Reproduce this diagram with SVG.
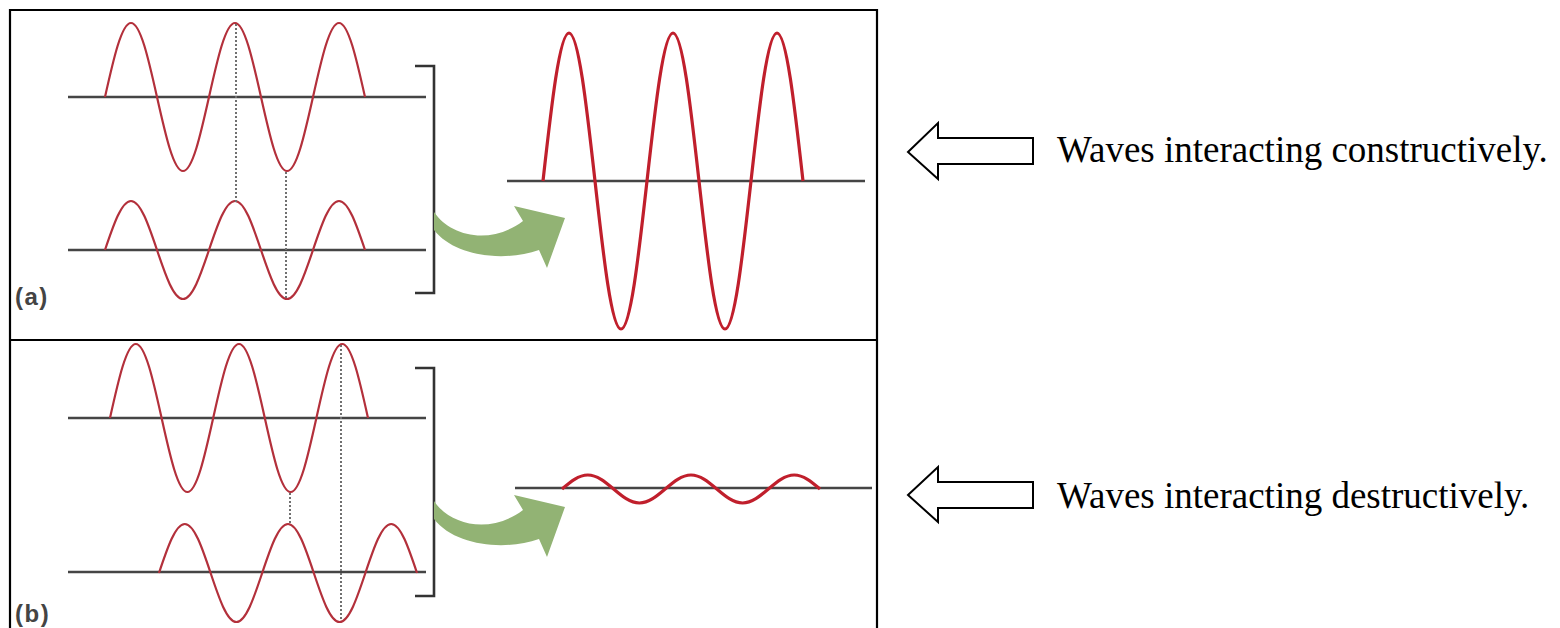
<svg xmlns="http://www.w3.org/2000/svg" width="1560" height="628" viewBox="0 0 1560 628">
  <style>
    .frame{stroke:#000;stroke-width:2.2;fill:none}
    .axis{stroke:#454545;stroke-width:2.6;fill:none}
    .wave{stroke:#b3303b;stroke-width:2.2;fill:none;stroke-linejoin:round}
    .wave-big{stroke:#c01f2c;stroke-width:3.2;fill:none;stroke-linejoin:round}
    .dots{stroke:#707070;stroke-width:2;stroke-dasharray:2 2;fill:none}
    .bracket{stroke:#333;stroke-width:2.6;fill:none}
    .green{fill:#92b374;stroke:none}
    .lbl{font-family:"Liberation Sans",Arial,sans-serif;font-weight:bold;font-size:24px;fill:#444;letter-spacing:1.5px}
    .hollow{fill:#fff;stroke:#000;stroke-width:2}
    .caption{font-family:"Liberation Serif","Times New Roman",serif;font-size:37px;fill:#000}
  </style>
  <defs>
    <path id="greenArrow" d="M434,212 C450,236 490,246 523,221 L514,206 L565,218 L547,268 L539,250 C505,262 455,257 434,230 Z"/>
  </defs>
  <rect width="1560" height="628" fill="#fff"/>

  <g id="frame">
    <path class="frame" d="M10,628 V10 H877 V628"/>
    <line class="frame" x1="10" y1="340" x2="877" y2="340"/>
  </g>

  <g id="panel-a">
    <g id="a-wave-top">
      <line class="axis" x1="68" y1="97" x2="426" y2="97"/>
      <path class="wave" d="M105,97 c8.48,-37.91 16.59,-74 26,-74 s17.52,36.09 26,74 s16.59,74 26,74 s17.52,-36.09 26,-74 s16.59,-74 26,-74 s17.52,36.09 26,74 s16.59,74 26,74 s17.52,-36.09 26,-74 s16.59,-74 26,-74 s17.52,36.09 26,74"/>
    </g>
    <g id="a-wave-bottom">
      <line class="axis" x1="68" y1="250" x2="426" y2="250"/>
      <path class="wave" d="M105,250 c8.48,-25.1 16.59,-49 26,-49 s17.52,23.9 26,49 s16.59,49 26,49 s17.52,-23.9 26,-49 s16.59,-49 26,-49 s17.52,23.9 26,49 s16.59,49 26,49 s17.52,-23.9 26,-49 s16.59,-49 26,-49 s17.52,23.9 26,49"/>
    </g>
    <g id="a-result">
      <line class="axis" x1="507" y1="181" x2="865" y2="181"/>
      <path class="wave-big" d="M543,181 c8.48,-75.82 16.59,-148 26,-148 s17.52,72.18 26,148 s16.59,148 26,148 s17.52,-72.18 26,-148 s16.59,-148 26,-148 s17.52,72.18 26,148 s16.59,148 26,148 s17.52,-72.18 26,-148 s16.59,-148 26,-148 s17.52,72.18 26,148"/>
    </g>
    <g id="a-bracket">
      <path class="bracket" d="M415,66 H434 V293 H415"/>
    </g>
    <g id="a-label">
      <text class="lbl" x="15" y="305">(a)</text>
    </g>
  </g>

  <g id="panel-b">
    <g id="b-wave-top">
      <line class="axis" x1="68" y1="418" x2="426" y2="418"/>
      <path class="wave" d="M110,418 c8.41,-37.91 16.46,-74 25.8,-74 s17.39,36.09 25.8,74 s16.46,74 25.8,74 s17.39,-36.09 25.8,-74 s16.46,-74 25.8,-74 s17.39,36.09 25.8,74 s16.46,74 25.8,74 s17.39,-36.09 25.8,-74 s16.46,-74 25.8,-74 s17.39,36.09 25.8,74"/>
    </g>
    <g id="b-wave-bottom">
      <line class="axis" x1="68" y1="572" x2="426" y2="572"/>
      <path class="wave" d="M159,573 c8.41,-25.1 16.46,-49 25.8,-49 s17.39,23.9 25.8,49 s16.46,49 25.8,49 s17.39,-23.9 25.8,-49 s16.46,-49 25.8,-49 s17.39,23.9 25.8,49 s16.46,49 25.8,49 s17.39,-23.9 25.8,-49 s16.46,-49 25.8,-49 s17.39,23.9 25.8,49"/>
    </g>
    <g id="b-result">
      <line class="axis" x1="515" y1="488" x2="872" y2="488"/>
      <path class="wave-big" d="M562,489 c8.41,-7.17 16.46,-14 25.8,-14 s17.39,6.83 25.8,14 s16.46,14 25.8,14 s17.39,-6.83 25.8,-14 s16.46,-14 25.8,-14 s17.39,6.83 25.8,14 s16.46,14 25.8,14 s17.39,-6.83 25.8,-14 s16.46,-14 25.8,-14 s17.39,6.83 25.8,14"/>
    </g>
    <g id="b-bracket">
      <path class="bracket" d="M415,368 H434 V596 H415"/>
    </g>
    <g id="b-label">
      <text class="lbl" x="15" y="622">(b)</text>
    </g>
  </g>

  <g id="connectors">
    <line class="dots" x1="236" y1="24" x2="236" y2="202"/>
    <line class="dots" x1="286" y1="172" x2="286" y2="299"/>
    <line class="dots" x1="290" y1="493" x2="290" y2="524"/>
    <line class="dots" x1="341" y1="345" x2="341" y2="621"/>
    <use href="#greenArrow" class="green"/>
    <use href="#greenArrow" class="green" transform="translate(0,289)"/>
    <polygon class="hollow" points="908,152 938,123 938,138 1033,138 1033,164 938,164 938,179"/>
    <polygon class="hollow" points="908,495 938,467 938,482 1033,482 1033,508 938,508 938,522"/>
  </g>

  <g id="caption-constructive">
    <text class="caption" x="1057" y="162">Waves interacting constructively.</text>
  </g>
  <g id="caption-destructive">
    <text class="caption" x="1057" y="508">Waves interacting destructively.</text>
  </g>
</svg>
